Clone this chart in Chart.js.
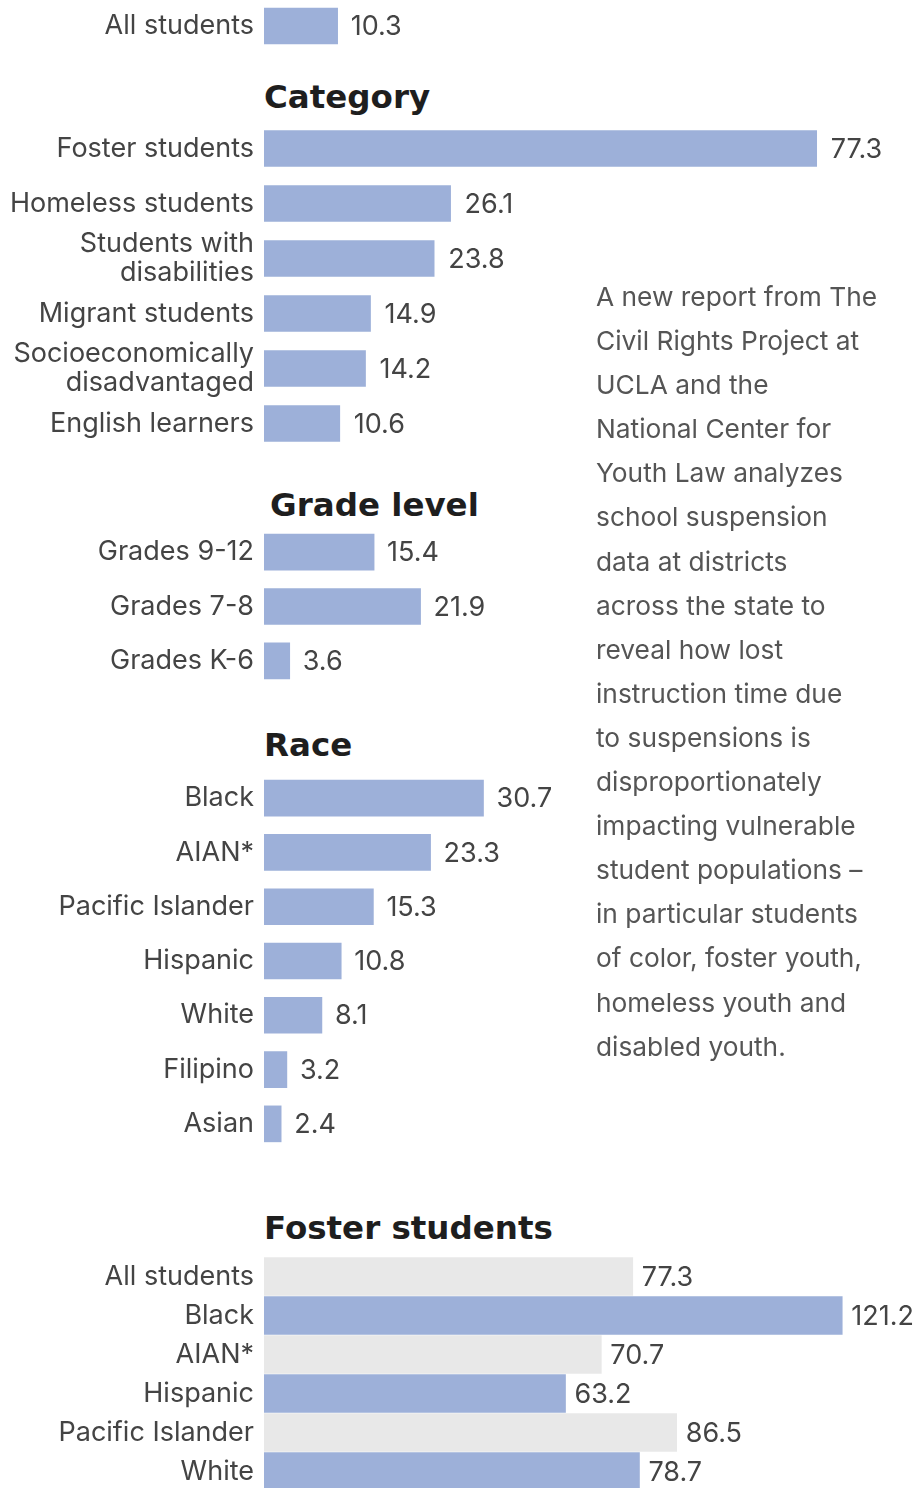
<!DOCTYPE html>
<html>
<head>
<meta charset="utf-8">
<script src="https://cdn.jsdelivr.net/npm/chart.js@4.4.1/dist/chart.umd.min.js"></script>
<style>
  html, body { margin:0; padding:0; background:#fff; }
  body { width:920px; height:1488px; position:relative; overflow:hidden; }
  canvas { position:absolute; left:0; }
  .hdr { position:absolute; font-family:"DejaVu Sans", sans-serif; font-weight:bold; font-size:32.5px; line-height:32px; color:#1e1e1e; white-space:nowrap; }
  .note { position:absolute; left:596px; top:275px; font-family:Inter, sans-serif; font-size:26.3px; line-height:44.1px; color:#555; white-space:nowrap; }
</style>
</head>
<body>
<canvas id="chartAll" width="920" height="52" style="top:0px"></canvas>
<div class="hdr" style="left:264px;top:81px">Category</div>
<canvas id="chartCategory" width="920" height="330" style="top:121px"></canvas>
<div class="hdr" style="left:270px;top:489px">Grade level</div>
<canvas id="chartGrade" width="920" height="163" style="top:525px"></canvas>
<div class="hdr" style="left:264px;top:729px">Race</div>
<canvas id="chartRace" width="920" height="380" style="top:771px"></canvas>
<div class="hdr" style="left:264px;top:1212px">Foster students</div>
<canvas id="chartFoster" width="920" height="234" style="top:1257px"></canvas>
<div class="note">A new report from The<br>Civil Rights Project at<br>UCLA and the<br>National Center for<br>Youth Law analyzes<br>school suspension<br>data at districts<br>across the state to<br>reveal how lost<br>instruction time due<br>to suspensions is<br>disproportionately<br>impacting vulnerable<br>student populations –<br>in particular students<br>of color, foster youth,<br>homeless youth and<br>disabled youth.</div>
<script>
const allLabels = ['All students'];
const allValues = [10.3];

const categoryLabels = ['Foster students', 'Homeless students', ['Students with', 'disabilities'], 'Migrant students', ['Socioeconomically', 'disadvantaged'], 'English learners'];
const categoryValues = [77.3, 26.1, 23.8, 14.9, 14.2, 10.6];

const gradeLabels = ['Grades 9-12', 'Grades 7-8', 'Grades K-6'];
const gradeValues = [15.4, 21.9, 3.6];

const raceLabels = ['Black', 'AIAN*', 'Pacific Islander', 'Hispanic', 'White', 'Filipino', 'Asian'];
const raceValues = [30.7, 23.3, 15.3, 10.8, 8.1, 3.2, 2.4];

const fosterLabels = ['All students', 'Black', 'AIAN*', 'Hispanic', 'Pacific Islander', 'White'];
const fosterValues = [77.3, 121.2, 70.7, 63.2, 86.5, 78.7];

const BLUE = '#9db0d9';
const GRAY = '#e8e8e8';
const TEXT = '#444';
const FONT = 'Inter';

const valueLabels = {
  id: 'valueLabels',
  afterDatasetsDraw(chart, args, opts){
    const ctx = chart.ctx;
    const ds = chart.data.datasets[0];
    const meta = chart.getDatasetMeta(0);
    ctx.save();
    ctx.font = '27px ' + FONT;
    ctx.fillStyle = TEXT;
    ctx.textBaseline = 'middle';
    ctx.textAlign = 'left';
    meta.data.forEach((bar, i)=>{
      ctx.fillText(String(ds.data[i]), bar.x + (opts.gap || 13), bar.y + 1);
    });
    ctx.restore();
  }
};

function makeChart(id, labels, values, max, color, gap, thickness){
  return new Chart(document.getElementById(id), {
    type: 'bar',
    data: { labels, datasets: [{ data: values, backgroundColor: color, barThickness: thickness, borderWidth: 0 }] },
    options: {
      indexAxis: 'y',
      responsive: false,
      animation: false,
      layout: { padding: 0 },
      plugins: { legend: { display: false }, tooltip: { enabled: false }, valueLabels: { gap } },
      scales: {
        x: { display: false, min: 0, max },
        y: {
          grid: { display: false, drawTicks: false, tickLength: 0 },
          border: { display: false },
          ticks: { color: TEXT, font: { family: FONT, size: 27, lineHeight: 1.1 }, padding: 10, autoSkip: false },
          afterFit: s => { s.width = 264; s.paddingTop = 0; s.paddingBottom = 0; }
        }
      }
    },
    plugins: [valueLabels]
  });
}

makeChart('chartAll', allLabels, allValues, 91.75, BLUE, 13, 36);
makeChart('chartCategory', categoryLabels, categoryValues, 91.75, BLUE, 14, 36);
makeChart('chartGrade', gradeLabels, gradeValues, 91.75, BLUE, 13, 36);
makeChart('chartRace', raceLabels, raceValues, 91.75, BLUE, 13, 36);
makeChart('chartFoster', fosterLabels, fosterValues, 137.5, c => c.dataIndex % 2 ? BLUE : GRAY, 9, 38);
</script>
</body>
</html>
